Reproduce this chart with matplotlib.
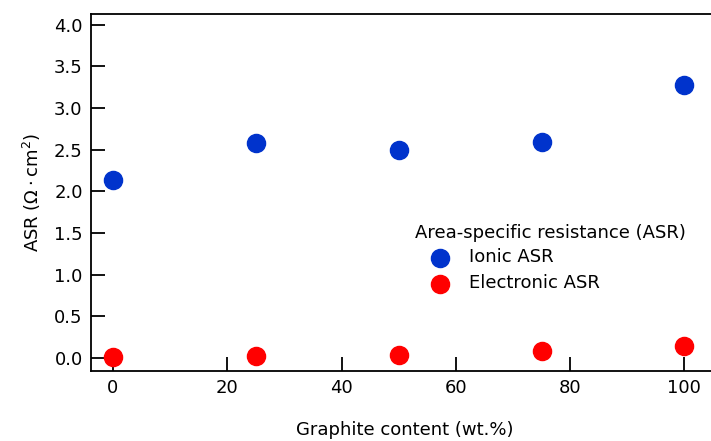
import numpy as np
import matplotlib.pyplot as plt

# graphite content (wt.%) and area-specific resistance values
graphite = [0, 25, 50, 75, 100]
ionic_asr = [2.14, 2.58, 2.50, 2.59, 3.28]
electronic_asr = [0.01, 0.03, 0.04, 0.08, 0.15]

plt.rcParams['font.family'] = ['DejaVu Sans']
plt.rcParams['mathtext.fontset'] = 'dejavusans'

fig = plt.figure(figsize=(7.11, 4.41), dpi=100)
ax = fig.add_axes([91/711, 1 - 371/441, 1 - 91/711 + 0.01, (371 - 14)/441])

ax.scatter(graphite, ionic_asr, s=170, color='#0033cc', label='Ionic ASR', zorder=3)
ax.scatter(graphite, electronic_asr, s=170, color='#ff0000', label='Electronic ASR', zorder=3)

ax.set_xlim(-3.85, 105.9)
ax.set_ylim(-0.156, 4.13)
ax.set_xticks([0, 20, 40, 60, 80, 100])
ax.set_yticks(np.arange(0, 4.01, 0.5))
ax.yaxis.set_major_formatter(plt.FormatStrFormatter('%.1f'))
ax.tick_params(direction='in', length=10, width=1.3, labelsize=13, pad=6, colors='black')
ax.spines['right'].set_visible(False)
for s in ['left', 'top', 'bottom']:
    ax.spines[s].set_linewidth(1.3)

ax.set_xlabel('Graphite content (wt.%)', fontsize=13, labelpad=17)
ax.set_ylabel('ASR ($\\Omega\\cdot$cm$^2$)', fontsize=13, labelpad=8)

# legend heading sits a little left of the marker column
fig.text(415/711, 1 - 233/441, 'Area-specific resistance (ASR)', fontsize=13,
         ha='left', va='center')
ax.legend(frameon=False, fontsize=13, loc='upper left',
          bbox_to_anchor=(406/711, 1 - 232/441), bbox_transform=fig.transFigure,
          handletextpad=0.6, labelspacing=0.45, markerscale=1.0)

fig.savefig('out.png', dpi=100)
